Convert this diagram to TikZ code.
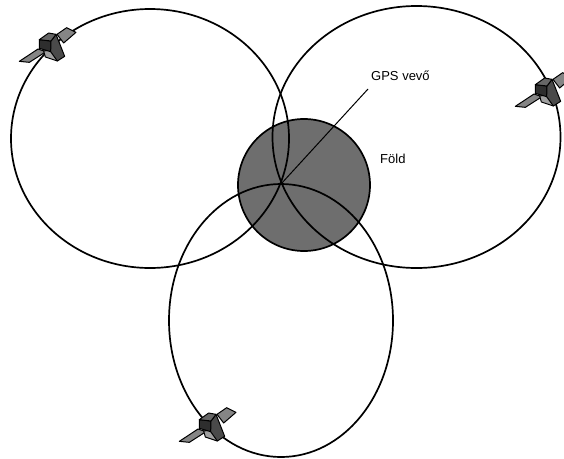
\documentclass[tikz,border=0pt]{standalone}
\usepackage{fontspec}
\setmainfont{Liberation Sans}
\definecolor{earthgrey}{HTML}{6E6E6E}
\definecolor{satdark}{HTML}{2E2E2E}
\definecolor{satmid}{HTML}{4A4A4A}
\definecolor{sattop}{HTML}{666666}
\definecolor{satlight}{HTML}{A0A0A0}
\definecolor{satpanel}{HTML}{858585}
\tikzset{
  orbit/.style={draw=black,line width=1.7pt},
  earthdisc/.style={draw=black,line width=1.7pt,fill=earthgrey},
  lbl/.style={font=\fontsize{13}{15}\selectfont,text=black,inner sep=0pt},
  satpart/.style={draw=black,line width=1pt,line join=round},
  satellite/.pic={
    \begin{scope}[scale=0.3333]
      \draw[satpart,fill=satpanel] (-98,43) -- (-42,6) -- (-18,14) -- (-68,46) -- cycle;
      \draw[satpart,fill=satpanel] (15,-38) -- (44,-58) -- (72,-44) -- (35,-12) -- cycle;
      \draw[satpart,fill=satlight] (-25,12) -- (3,8) -- (16,42) -- (-20,30) -- cycle;
      \draw[satpart,fill=satdark] (-38,-22) -- (-3,-18) -- (-4,14) -- (-38,4) -- cycle;
      \draw[satpart,fill=satmid] (-3,-18) -- (12,-38) -- (38,28) -- (16,42) -- (-4,14) -- cycle;
      \draw[satpart,fill=sattop] (-38,-22) -- (-10,-42) -- (12,-38) -- (-3,-18) -- cycle;
    \end{scope}
  }
}
\begin{document}
\begin{tikzpicture}[x=1pt,y=-1pt]
  \useasboundingbox (0,0) rectangle (564,458);
  \begin{scope}
    \clip (0,0) rectangle (564,458);
    \node[circle,earthdisc,minimum size=132pt,inner sep=0pt] (earth) at (304,185) {};
    \draw[orbit] (150,138.5) ellipse [x radius=139,y radius=129.5];
    \draw[orbit] (416.5,137) ellipse [x radius=144,y radius=131];
    \draw[orbit] (281,320.5) ellipse [x radius=112,y radius=136.5];
    \pic at (52,47) {satellite};
    \pic at (548,92) {satellite};
    \pic at (212,427) {satellite};
  \end{scope}
  \coordinate (receiver) at (281,184);
  \coordinate (leader) at (368,89);
  \draw[black,line width=1pt] (receiver) -- (leader);
  \node[lbl,anchor=west] (gps) at (371,76) {GPS vevő};
  \node[lbl,anchor=west] (fold) at (380,159) {Föld};
\end{tikzpicture}
\end{document}
